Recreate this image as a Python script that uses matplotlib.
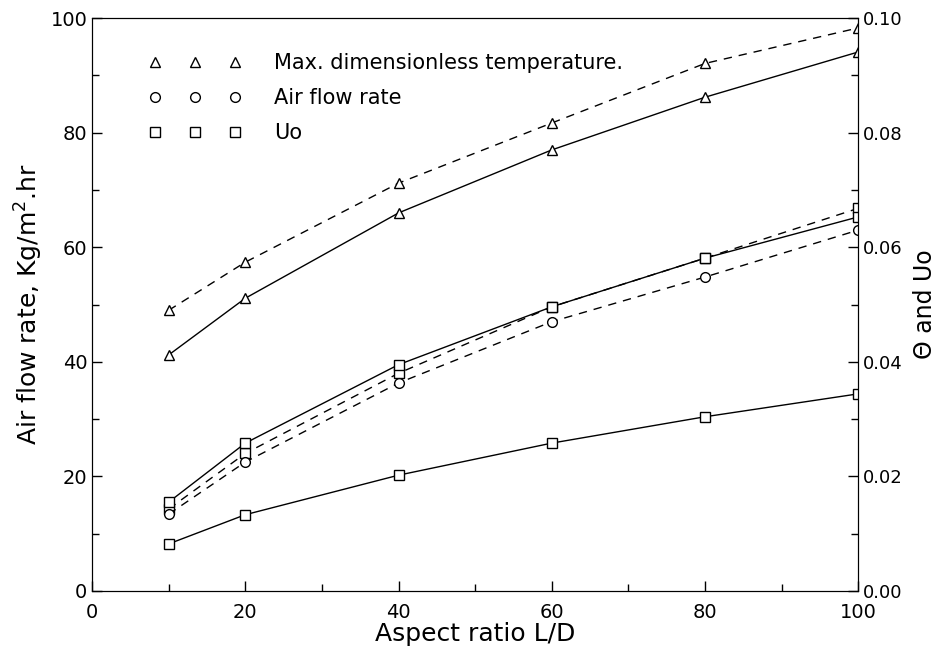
import matplotlib.pyplot as plt
from matplotlib.lines import Line2D

plt.rcParams['font.family'] = ['DejaVu Sans']

aspect = [10, 20, 40, 60, 80, 100]

# triangles: max dimensionless temperature (right axis x1000 -> same scale as left)
temp_dash = [49.0, 57.4, 71.2, 81.7, 92.1, 98.3]
temp_solid = [41.2, 51.1, 66.0, 77.0, 86.2, 94.1]
# middle group
mid_solid_sq = [15.5, 25.8, 39.5, 49.6, 58.1, 65.3]
mid_dash_sq = [14.3, 24.0, 38.0, 49.6, 58.1, 66.8]
air_dash = [13.4, 22.5, 36.3, 47.0, 54.8, 63.0]
# lower squares: Uo
uo_solid = [8.2, 13.3, 20.2, 25.8, 30.4, 34.4]

fig = plt.figure(figsize=(9.4, 6.5), dpi=100)
ax = fig.add_axes([0.098, 0.091, 0.815, 0.881])

mk = dict(mfc='white', mec='black', ms=7, mew=1.0, color='black', lw=1.0)
dash = (0, (6, 5))

ax.plot(aspect, temp_dash, marker='^', ls=dash, **mk)
ax.plot(aspect, temp_solid, marker='^', ls='-', **mk)
ax.plot(aspect, mid_dash_sq, marker='s', ls=dash, **mk)
ax.plot(aspect, air_dash, marker='o', ls=dash, **mk)
ax.plot(aspect, mid_solid_sq, marker='s', ls='-', **mk)
ax.plot(aspect, uo_solid, marker='s', ls='-', **mk)

ax.set_xlim(0, 100)
ax.set_ylim(0, 100)
ax.set_xticks(range(0, 101, 20))
ax.set_xticks(range(10, 100, 20), minor=True)
ax.set_yticks(range(0, 101, 20))
ax.set_yticks(range(10, 100, 20), minor=True)
ax.tick_params(direction='in', labelsize=14, length=7, width=1)
ax.tick_params(which='minor', direction='in', length=5, width=1)
ax.tick_params(axis='x', pad=9)
ax.set_xlabel('Aspect ratio L/D', fontsize=18, labelpad=0)
ax.set_ylabel('Air flow rate, Kg/m$^2$.hr', fontsize=18, labelpad=4)

ax2 = ax.twinx()
ax2.set_ylim(0, 0.10)
ax2.set_yticks([0.0, 0.02, 0.04, 0.06, 0.08, 0.10])
ax2.set_yticklabels(['0.00', '0.02', '0.04', '0.06', '0.08', '0.10'])
ax2.set_yticks([0.01, 0.03, 0.05, 0.07, 0.09], minor=True)
ax2.tick_params(direction='in', labelsize=13, length=7, width=1, pad=3)
ax2.tick_params(which='minor', direction='in', length=5, width=1)
ax2.set_ylabel('\u0398 and Uo', fontsize=17, labelpad=8)

handles = [
    Line2D([], [], marker='^', ls='none', mfc='white', mec='black', ms=7),
    Line2D([], [], marker='o', ls='none', mfc='white', mec='black', ms=7),
    Line2D([], [], marker='s', ls='none', mfc='white', mec='black', ms=7),
]
labels = ['Max. dimensionless temperature.', 'Air flow rate', 'Uo']
ax.legend(handles, labels, loc='upper left', bbox_to_anchor=(0.05, 0.972),
          numpoints=3, handlelength=4.4, frameon=False, fontsize=15,
          labelspacing=0.72, handletextpad=1.6)

fig.savefig('out.png', dpi=100)
